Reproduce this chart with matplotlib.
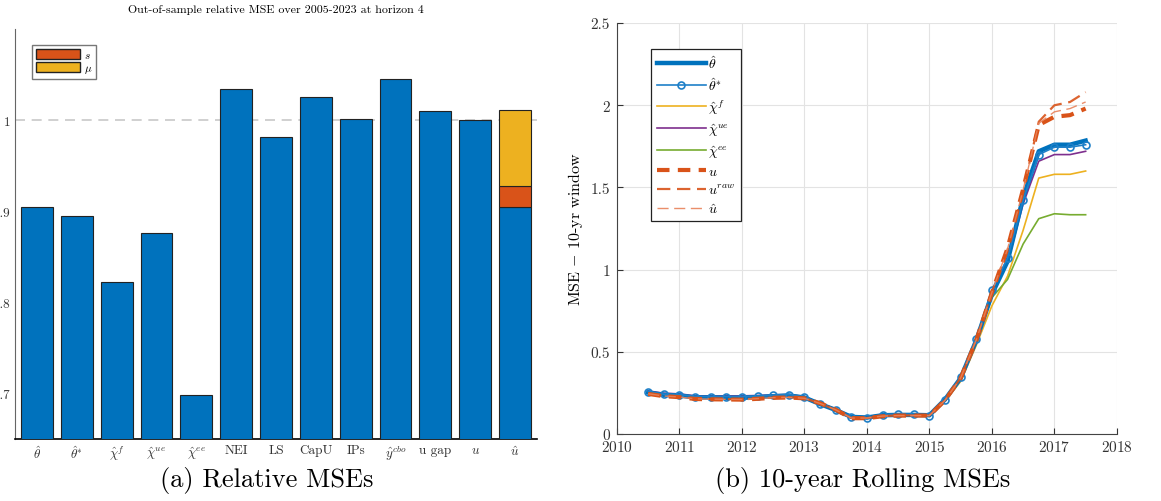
import numpy as np
import matplotlib
matplotlib.use("Agg")
import matplotlib.pyplot as plt
from matplotlib.patches import Patch

plt.rcParams['font.family'] = ['cmr10', 'DejaVu Serif']
plt.rcParams['mathtext.fontset'] = 'cm'
plt.rcParams['axes.unicode_minus'] = False
plt.rcParams['axes.formatter.use_mathtext'] = True

# ---- panel (a) data
labels = [r'$\hat{\theta}$', r'$\hat{\theta}^{*}$', r'$\hat{\chi}^{f}$', r'$\hat{\chi}^{ue}$',
          r'$\hat{\chi}^{ee}$', 'NEI', 'LS', 'CapU', 'IPs', r'$\hat{y}^{cbo}$', 'u gap',
          r'$u$', r'$\hat{u}$']
rel_mse = [0.905, 0.895, 0.822, 0.876, 0.698, 1.034, 0.982, 1.025, 1.001, 1.045, 1.010, 1.000, 0.905]
s_part = 0.928 - 0.905     # orange segment on top of u-hat
mu_part = 1.011 - 0.928    # yellow segment

# ---- panel (b) data, quarterly 2010.5 .. 2017.5
years = np.arange(2010.5, 2017.5 + 0.01, 0.25)
theta_hat = [0.252, 0.238, 0.234, 0.222, 0.222, 0.220, 0.220, 0.224, 0.230, 0.234, 0.222, 0.182, 0.146, 0.104, 0.100,
             0.114, 0.116, 0.116, 0.114, 0.210, 0.340, 0.570, 0.850, 1.050, 1.440, 1.720, 1.760, 1.760, 1.785]
theta_star = [0.258, 0.242, 0.240, 0.228, 0.228, 0.228, 0.228, 0.230, 0.236, 0.240, 0.226, 0.183, 0.148, 0.105, 0.098,
              0.118, 0.120, 0.120, 0.110, 0.205, 0.345, 0.580, 0.877, 1.070, 1.425, 1.700, 1.745, 1.745, 1.760]
chi_f = [0.248, 0.232, 0.228, 0.218, 0.218, 0.218, 0.218, 0.222, 0.226, 0.230, 0.216, 0.178, 0.142, 0.100, 0.096,
         0.110, 0.112, 0.112, 0.110, 0.200, 0.320, 0.540, 0.780, 0.960, 1.240, 1.557, 1.580, 1.580, 1.600]
chi_ue = [0.262, 0.248, 0.244, 0.232, 0.232, 0.232, 0.232, 0.234, 0.238, 0.240, 0.228, 0.188, 0.152, 0.110, 0.104,
          0.120, 0.122, 0.122, 0.120, 0.212, 0.340, 0.565, 0.850, 1.040, 1.400, 1.660, 1.700, 1.700, 1.720]
chi_ee = [0.250, 0.235, 0.232, 0.220, 0.220, 0.220, 0.220, 0.224, 0.228, 0.232, 0.220, 0.180, 0.145, 0.102, 0.098,
          0.112, 0.114, 0.114, 0.112, 0.205, 0.335, 0.560, 0.830, 0.940, 1.156, 1.310, 1.340, 1.334, 1.334]
u = [0.244, 0.230, 0.224, 0.213, 0.211, 0.210, 0.209, 0.214, 0.220, 0.222, 0.217, 0.187, 0.148, 0.096, 0.096,
     0.108, 0.112, 0.112, 0.112, 0.205, 0.340, 0.570, 0.860, 1.130, 1.490, 1.880, 1.930, 1.940, 1.980]
u_raw = [0.246, 0.232, 0.226, 0.215, 0.213, 0.212, 0.211, 0.216, 0.222, 0.224, 0.218, 0.186, 0.147, 0.097, 0.097,
         0.109, 0.113, 0.113, 0.113, 0.206, 0.342, 0.575, 0.865, 1.120, 1.480, 1.900, 2.000, 2.020, 2.080]
u_hat = [0.245, 0.231, 0.225, 0.214, 0.212, 0.211, 0.210, 0.215, 0.221, 0.223, 0.217, 0.186, 0.147, 0.097, 0.097,
         0.109, 0.112, 0.112, 0.112, 0.205, 0.341, 0.572, 0.862, 1.125, 1.485, 1.890, 1.960, 1.980, 2.020]

blue = '#0072BD'
orange = '#D95319'
yellow = '#EDB120'
purple = '#7E2F8E'
green = '#77AC30'

fig = plt.figure(figsize=(11.61, 5.02), dpi=100)

# ---------------- (a)
ax1 = fig.add_axes([0.013, 0.1235, 0.4495, 0.8165])
x = np.arange(1, len(labels) + 1)
ax1.bar(x, rel_mse, width=0.8, color=blue, edgecolor='#222222', linewidth=0.8, zorder=3)
ax1.bar(x[-1], s_part, bottom=rel_mse[-1], width=0.8, color=orange, edgecolor='#222222', linewidth=0.8, zorder=3)
ax1.bar(x[-1], mu_part, bottom=rel_mse[-1] + s_part, width=0.8, color=yellow, edgecolor='#222222',
        linewidth=0.8, zorder=3)
ax1.axhline(1.0, color='#c8c8c8', ls=(0, (6, 4)), lw=1.2, zorder=1)
ax1.set_xlim(0.45, 13.55)
ax1.set_ylim(0.65, 1.1)
ax1.set_yticks([0.7, 0.8, 0.9, 1.0])
ax1.set_yticklabels(['0.7', '0.8', '0.9', '1'])
ax1.set_xticks(x)
ax1.set_xticklabels(labels)
ax1.tick_params(labelsize=9.5, length=0, colors='#333333')
ax1.spines['top'].set_visible(False)
ax1.spines['right'].set_visible(False)
ax1.spines['left'].set_color('#666666')
ax1.spines['bottom'].set_linewidth(1.2)
ax1.set_title('Out-of-sample relative MSE over 2005-2023 at horizon 4', fontsize=8.6, pad=12)
leg1 = ax1.legend(handles=[Patch(facecolor=orange, edgecolor='#222222', label=r'$s$'),
                           Patch(facecolor=yellow, edgecolor='#222222', label=r'$\mu$')],
                  loc='upper left', bbox_to_anchor=(0.022, 0.975), fontsize=8, handlelength=4.0,
                  handleheight=1.0, handletextpad=0.3, borderpad=0.35, labelspacing=0.25, fancybox=False)
leg1.get_frame().set_edgecolor('#555555')
leg1.get_frame().set_linewidth(1.0)

# ---------------- (b)
ax2 = fig.add_axes([0.5314, 0.1335, 0.4306, 0.8185])
ax2.plot(years, theta_hat, color=blue, lw=3.2, label=r'$\hat{\theta}$', zorder=5)
ax2.plot(years, theta_star, color='#1f80c8', lw=1.2, marker='o', ms=5, mfc='none', mew=1.2,
         label=r'$\hat{\theta}^{*}$', zorder=6)
ax2.plot(years, chi_f, color=yellow, lw=1.2, label=r'$\hat{\chi}^{f}$', zorder=4)
ax2.plot(years, chi_ue, color=purple, lw=1.2, label=r'$\hat{\chi}^{ue}$', zorder=4)
ax2.plot(years, chi_ee, color=green, lw=1.2, label=r'$\hat{\chi}^{ee}$', zorder=4)
ax2.plot(years, u, color=orange, lw=3.0, ls=(0, (3, 2)), label=r'$u$', zorder=7)
ax2.plot(years, u_raw, color=orange, lw=1.6, ls=(0, (6, 3)), alpha=0.9, label=r'$u^{raw}$', zorder=7)
ax2.plot(years, u_hat, color='#e8825a', lw=1.0, ls=(0, (8, 4)), alpha=0.9, label=r'$\hat{u}$', zorder=7)
ax2.set_xlim(2010, 2018)
ax2.set_ylim(0, 2.5)
ax2.set_xticks(np.arange(2010, 2019, 1))
ax2.set_yticks([0, 0.5, 1, 1.5, 2, 2.5])
ax2.set_yticklabels(['0', '0.5', '1', '1.5', '2', '2.5'])
ax2.grid(True, color='#e3e3e3', lw=0.8)
ax2.set_axisbelow(True)
ax2.spines['top'].set_visible(False)
ax2.spines['right'].set_visible(False)
ax2.spines['left'].set_color('#444444')
ax2.spines['bottom'].set_color('#444444')
ax2.tick_params(labelsize=11, direction='in', length=4, colors='#333333')
ax2.tick_params(axis='y', pad=5)
ax2.set_ylabel(r'MSE $-$ 10-yr window', fontsize=11.5)
leg2 = ax2.legend(loc='upper left', bbox_to_anchor=(0.055, 0.955), fontsize=10, handlelength=3.5,
                  handletextpad=0.2, borderpad=0.4, labelspacing=0.36, fancybox=False, framealpha=1)
leg2.get_frame().set_edgecolor('#222222')
leg2.get_frame().set_linewidth(0.9)

fig.text(0.230, 0.043, '(a) Relative MSEs', ha='center', va='center', fontsize=19)
fig.text(0.743, 0.043, '(b) 10-year Rolling MSEs', ha='center', va='center', fontsize=19)

fig.savefig('out.png', dpi=100)
